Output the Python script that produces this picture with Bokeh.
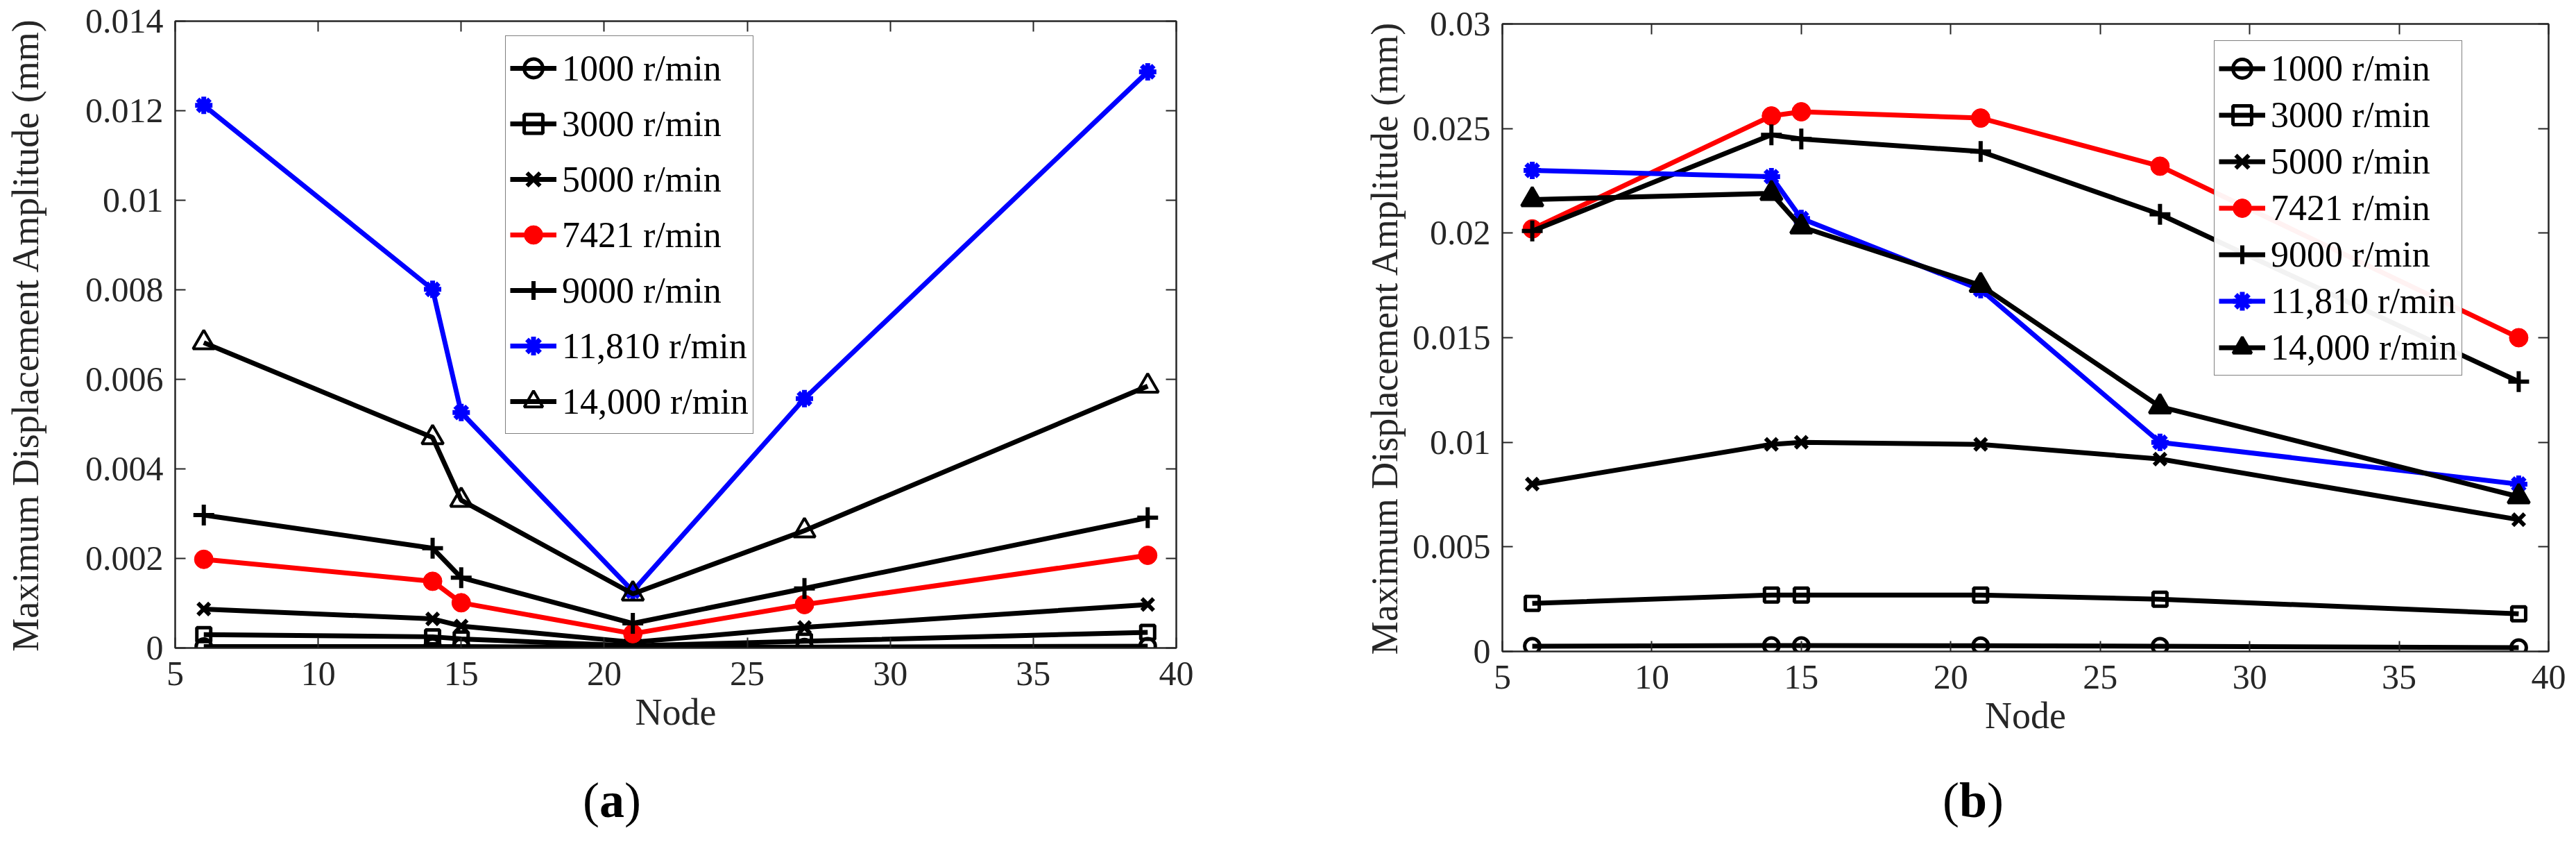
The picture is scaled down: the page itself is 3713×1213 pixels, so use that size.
from bokeh.plotting import figure
from bokeh.models import (Range1d, LinearAxis, FixedTicker, Legend, LegendItem,
                          CustomLabelingPolicy, Div)
from bokeh.layouts import row, column
from bokeh.embed import file_html
from bokeh.resources import INLINE

nodes = [6, 14, 15, 21, 27, 39]
speed_labels = ["1000 r/min", "3000 r/min", "5000 r/min", "7421 r/min",
                "9000 r/min", "11,810 r/min", "14,000 r/min"]

# panel (a)
a_1000 = [0.00003, 0.00003, 0.00003, 0.00001, 0.00002, 0.00004]
a_3000 = [0.00030, 0.00025, 0.00020, 0.00005, 0.00015, 0.00035]
a_5000 = [0.00087, 0.00065, 0.00049, 0.00013, 0.00046, 0.00097]
a_7421 = [0.00198, 0.00149, 0.00101, 0.00032, 0.00097, 0.00207]
a_9000 = [0.00297, 0.00223, 0.00157, 0.00055, 0.00133, 0.00291]
a_11810 = [0.01212, 0.00801, 0.00526, 0.00127, 0.00557, 0.01287]
a_14000 = [0.00682, 0.00470, 0.00330, 0.00121, 0.00262, 0.00585]

# panel (b)
b_1000 = [0.00025, 0.00028, 0.00028, 0.00027, 0.00025, 0.00018]
b_3000 = [0.0023, 0.0027, 0.0027, 0.0027, 0.0025, 0.0018]
b_5000 = [0.0080, 0.0099, 0.0100, 0.0099, 0.0092, 0.0063]
b_7421 = [0.0202, 0.0256, 0.0258, 0.0255, 0.0232, 0.0150]
b_9000 = [0.0201, 0.0247, 0.0245, 0.0239, 0.0209, 0.0129]
b_11810 = [0.0230, 0.0227, 0.0207, 0.0173, 0.0100, 0.0080]
b_14000 = [0.0216, 0.0219, 0.0203, 0.0175, 0.0117, 0.0074]

x_ticks = [5, 10, 15, 20, 25, 30, 35, 40]
ya_ticks = [0, 0.002, 0.004, 0.006, 0.008, 0.01, 0.012, 0.014]
ya_labels = ["0", "0.002", "0.004", "0.006", "0.008", "0.01", "0.012", "0.014"]
yb_ticks = [0, 0.005, 0.01, 0.015, 0.02, 0.025, 0.03]
yb_labels = ["0", "0.005", "0.01", "0.015", "0.02", "0.025", "0.03"]

FONT = "Liberation Serif"
AX = "#262626"
colors = ["black", "black", "black", "red", "black", "blue", "black"]
markers = ["circle", "square", "x", "circle", "cross", "asterisk", "triangle"]
msizes = [22, 20, 24, 27, 30, 25, 31]
mwidths = [5, 5, 6, 1, 6, 7, 4]

# mirror axes: ticks only, no labels
no_labels = CustomLabelingPolicy(code="for (const i of indices) { indices.unset(i) }")


def style_axis(ax, ticks, labels=None, show=True):
    ax.ticker = FixedTicker(ticks=ticks)
    ax.major_tick_in = 15
    ax.major_tick_out = 0
    ax.minor_tick_line_color = None
    ax.axis_line_color = AX
    ax.axis_line_width = 2
    ax.major_tick_line_color = AX
    ax.major_tick_line_width = 2
    if show:
        ax.major_label_text_font = FONT
        ax.major_label_text_font_size = "50px"
        ax.major_label_text_color = AX
        ax.axis_label_text_font = FONT
        ax.axis_label_text_font_size = "54px"
        ax.axis_label_text_font_style = "normal"
        ax.axis_label_text_color = AX
        if labels:
            ax.major_label_overrides = {t: l for t, l in zip(ticks, labels)}
    else:
        ax.major_label_policy = no_labels
        ax.major_label_standoff = 0


def panel(series, ymax, yticks, ylabels, fills, frame, borders, leg_loc, leg_row,
          ylab_standoff):
    p = figure(frame_width=frame[0], frame_height=frame[1],
               min_border_left=borders[0], min_border_right=borders[1],
               min_border_top=borders[2], min_border_bottom=borders[3],
               x_range=Range1d(5, 40), y_range=Range1d(0, ymax),
               output_backend="svg", toolbar_location=None)
    p.xgrid.grid_line_color = None
    p.ygrid.grid_line_color = None
    p.outline_line_color = AX
    p.outline_line_width = 2

    style_axis(p.xaxis[0], x_ticks)
    style_axis(p.yaxis[0], yticks, ylabels)
    p.xaxis.axis_label = "Node"
    p.xaxis.major_label_standoff = 20
    p.xaxis.axis_label_standoff = 6
    p.yaxis.axis_label = "Maximum Displacement Amplitude (mm)"
    p.yaxis.major_label_standoff = 17
    p.yaxis.axis_label_standoff = ylab_standoff

    top = LinearAxis()
    style_axis(top, x_ticks, show=False)
    p.add_layout(top, "above")
    right = LinearAxis()
    style_axis(right, yticks, show=False)
    p.add_layout(right, "right")

    items = []
    for i, ys in enumerate(series):
        c = colors[i]
        ln = p.line(nodes, ys, line_color=c, line_width=7)
        sc = p.scatter(nodes, ys, marker=markers[i], size=msizes[i],
                       line_color=c, line_width=mwidths[i], fill_color=fills[i])
        items.append(LegendItem(label=speed_labels[i], renderers=[ln, sc]))

    leg = Legend(items=items, location=leg_loc)
    leg.label_text_font = FONT
    leg.label_text_font_size = "52px"
    leg.label_text_color = "black"
    leg.glyph_width = 67
    leg.glyph_height = leg_row
    leg.label_height = leg_row
    leg.spacing = 0
    leg.padding = 6
    leg.margin = 0
    leg.label_standoff = 8
    leg.border_line_color = "black"
    leg.border_line_width = 1.5
    p.add_layout(leg)
    return p


def caption(letter, width, pad_left):
    return Div(text="(<b>%s</b>)" % letter, width=width, height=85,
               styles={"font-family": FONT, "font-size": "72px", "line-height": "72px",
                       "color": "black", "padding-left": "%dpx" % pad_left,
                       "box-sizing": "border-box", "white-space": "nowrap"})


fills_a = [None, None, None, "red", None, "blue", None]
fills_b = [None, None, None, "red", None, "blue", "black"]

pa = panel([a_1000, a_3000, a_5000, a_7421, a_9000, a_11810, a_14000],
           0.014, ya_ticks, ya_labels, fills_a,
           (1443, 903), (252, 155, 30, 179), (476, 308), 80, 53)
pb = panel([b_1000, b_3000, b_5000, b_7421, b_9000, b_11810, b_14000],
           0.03, yb_ticks, yb_labels, fills_b,
           (1508, 904), (305, 34, 34, 174), (1026, 397), 67, 7)

layout = row(column(pa, caption("a", 1850, 835)),
             column(pb, caption("b", 1847, 935)))
open("out.html", "w").write(file_html(layout, INLINE))
